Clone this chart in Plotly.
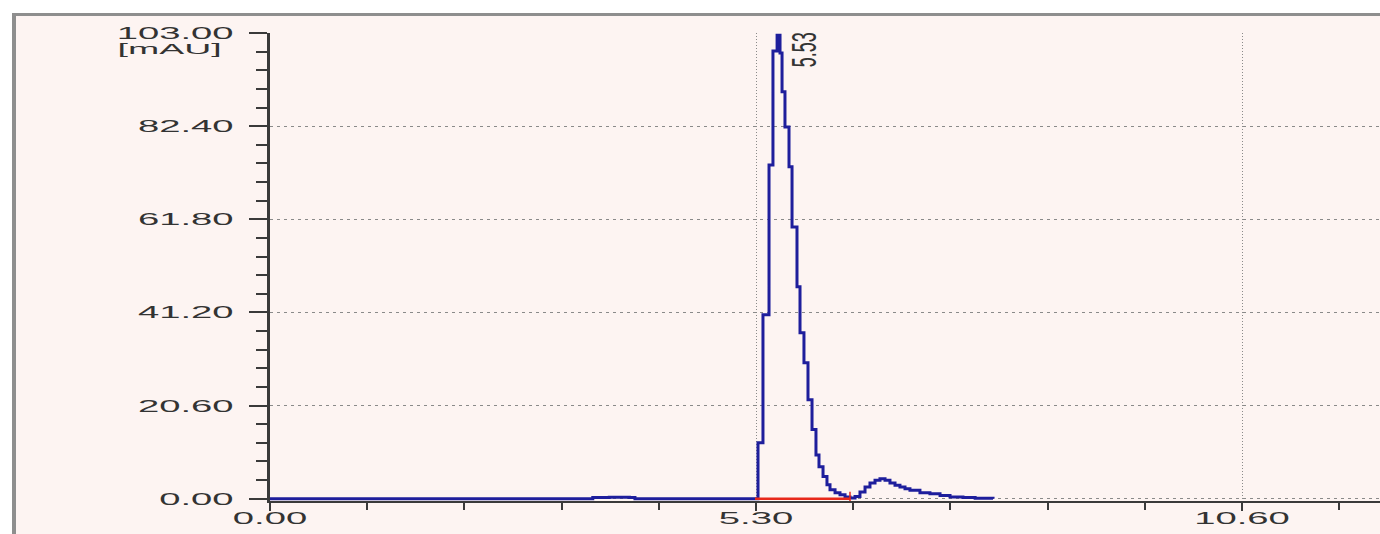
import plotly.graph_objects as go

# Chromatogram trace (retention time in min, detector signal in mAU)
time_min = [
    0.00, 3.45, 3.52, 3.70, 3.92, 3.98, 5.289,
    5.322, 5.376, 5.442, 5.485, 5.53, 5.562, 5.584, 5.616, 5.660,
    5.693, 5.747, 5.780, 5.823, 5.867, 5.911, 5.954, 5.987, 6.031,
    6.074, 6.107, 6.162, 6.216, 6.271, 6.325,
    6.380, 6.434, 6.489, 6.543, 6.598, 6.652, 6.707, 6.761, 6.816,
    6.870, 6.925, 6.979, 7.088, 7.197, 7.307, 7.416, 7.557, 7.690, 7.885,
]
signal_mau = [
    0.0, 0.0, 0.3, 0.35, 0.3, 0.0, 0.0,
    12.4, 40.7, 73.8, 99.0, 102.5, 98.6, 90.0, 82.2, 73.4,
    60.1, 46.9, 36.7, 30.1, 21.9, 15.3, 9.7, 7.1, 4.9,
    3.1, 2.0, 1.3, 0.9, 0.4, 0.15,
    0.5, 1.5, 2.6, 3.5, 4.1, 4.4, 4.1, 3.5, 3.0,
    2.6, 2.2, 1.9, 1.3, 1.1, 0.7, 0.4, 0.3, 0.1, 0.0,
]

# Integration baseline of the main peak
baseline_time = [5.289, 6.325]
baseline_level = [0.0, 0.0]

# Peak annotation
peak_rt = 5.53
peak_height = 102.5

# Axis ticks
x_tickvals = [0.0, 5.30, 10.60]
x_ticktext = ["0.00", "5.30", "10.60"]
y_tickvals = [0.0, 20.6, 41.2, 61.8, 82.4, 103.0]
y_ticktext = ["0.00", "20.60", "41.20", "61.80", "82.40", "103.00"]
y_unit = "[mAU]"

PAPER_W, PAPER_H = 1380, 534
M_L, M_R, M_T, M_B = 270, 0, 33, 33
X_MAX = 12.105
Y_MIN, Y_MAX = -0.5, 103.0

PLOT_W = PAPER_W - M_L - M_R
PLOT_H = PAPER_H - M_T - M_B


def px_x(p):
    return (p - M_L) / PLOT_W


def px_y(p):
    return (PAPER_H - M_B - p) / PLOT_H


BG = "#fdf4f2"
FRAME = "#8e8e8e"
AXIS = "#3a3a3a"
TRACE = "#1e1e9c"
BASE = "#e8281a"
TEXT = "#333333"
FONT = "Liberation Sans, Arial, sans-serif"

fig = go.Figure()

fig.add_trace(go.Scatter(
    x=time_min, y=signal_mau, mode="lines",
    line=dict(color=TRACE, width=3, shape="hv"),
    hoverinfo="skip", showlegend=False,
))
fig.add_trace(go.Scatter(
    x=baseline_time, y=baseline_level, mode="lines",
    line=dict(color=BASE, width=2.4),
    hoverinfo="skip", showlegend=False,
))
fig.add_trace(go.Scatter(
    x=[baseline_time[1]], y=[0.3], mode="markers",
    marker=dict(symbol="line-ns", size=8, line=dict(color=BASE, width=1.5)),
    hoverinfo="skip", showlegend=False,
))

shapes = [
    # pink chart panel
    dict(type="rect", xref="paper", yref="paper", layer="below",
         x0=px_x(14), x1=px_x(PAPER_W + 5), y0=px_y(PAPER_H + 5), y1=px_y(15),
         fillcolor=BG, line=dict(width=0)),
    # panel frame, top and left edges
    dict(type="line", xref="paper", yref="paper", layer="below",
         x0=px_x(12), x1=px_x(PAPER_W + 5), y0=px_y(14.5), y1=px_y(14.5),
         line=dict(color=FRAME, width=3)),
    dict(type="line", xref="paper", yref="paper", layer="below",
         x0=px_x(14), x1=px_x(14), y0=px_y(13), y1=px_y(PAPER_H + 5),
         line=dict(color=FRAME, width=4)),
]

annotations = [
    dict(text=y_unit, xref="paper", yref="paper", x=px_x(224), y=px_y(48),
         xanchor="right", yanchor="middle", showarrow=False,
         font=dict(family=FONT, size=15, color=TEXT)),
    dict(text=f"{peak_rt:.2f}", x=peak_rt, y=peak_height, xref="x", yref="y",
         xanchor="center", yanchor="middle", xshift=27, yshift=-15,
         textangle=-90, showarrow=False,
         font=dict(family=FONT, size=18, color=TEXT)),
]

fig.update_layout(
    width=PAPER_W, height=PAPER_H,
    margin=dict(l=M_L, r=M_R, t=M_T, b=M_B, pad=0),
    paper_bgcolor="white", plot_bgcolor="rgba(0,0,0,0)",
    shapes=shapes, annotations=annotations,
    showlegend=False,
    font=dict(family=FONT, size=17, color=TEXT),
)

fig.update_xaxes(
    range=[0, X_MAX], fixedrange=True,
    tickvals=x_tickvals, ticktext=x_ticktext,
    ticks="outside", ticklen=8, tickwidth=2, tickcolor=AXIS,
    showline=True, linecolor=AXIS, linewidth=2,
    showgrid=True, gridcolor="#8a8a8a", gridwidth=1, griddash="1px,2px",
    zeroline=False, layer="below traces",
    ticklabelstandoff=-7,
    tickfont=dict(family=FONT, size=17, color=TEXT),
    minor=dict(dtick=1.06, tick0=0, ticks="outside", ticklen=7,
               tickwidth=2, tickcolor=AXIS, showgrid=False),
)
fig.update_yaxes(
    range=[Y_MIN, Y_MAX], fixedrange=True,
    tickvals=y_tickvals, ticktext=y_ticktext,
    ticks="outside", ticklen=18, tickwidth=2, tickcolor=AXIS,
    showline=True, linecolor=AXIS, linewidth=3,
    showgrid=True, gridcolor="#8a8a8a", gridwidth=1, griddash="3px,4px",
    zeroline=False, layer="below traces",
    ticklabelstandoff=12,
    tickfont=dict(family=FONT, size=17, color=TEXT),
    minor=dict(dtick=4.12, tick0=0, ticks="outside", ticklen=11,
               tickwidth=2, tickcolor=AXIS, showgrid=False),
)

# Widen the lettering horizontally, as printed by the instrument software
stretch_js = """
var gd = document.getElementById('{plot_id}');
function stretch(el, sx, sy, where) {
  var b = el.getBBox();
  var cx = where === 'right' ? b.x + b.width : b.x + b.width / 2;
  var cy = b.y + b.height / 2;
  var t = el.getAttribute('transform') || '';
  el.setAttribute('transform', t + ' translate(' + cx + ',' + cy + ') scale(' + sx + ',' + sy + ') translate(' + (-cx) + ',' + (-cy) + ')');
}
gd.querySelectorAll('.ytick text').forEach(function (el) { stretch(el, 2.25, 1, 'right'); });
gd.querySelectorAll('.xtick text').forEach(function (el) { stretch(el, 2.25, 1, 'center'); });
gd.querySelectorAll('.annotation-text').forEach(function (el) {
  if (el.textContent.indexOf('mAU') >= 0) { stretch(el, 2.5, 1, 'right'); }
  else { stretch(el, 1, 2.0, 'center'); }
});
"""

fig.write_html("out.html", post_script=stretch_js, config={"staticPlot": True})
